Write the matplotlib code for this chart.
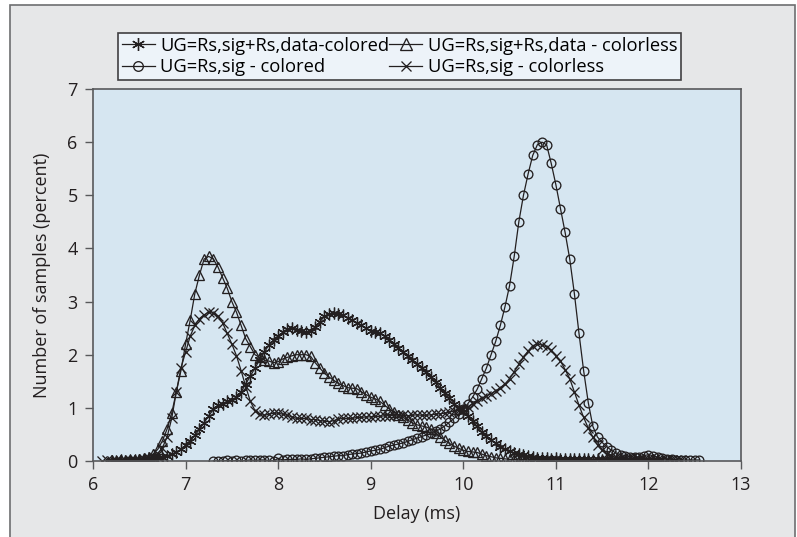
import numpy as np
import matplotlib
matplotlib.use("Agg")
import matplotlib.pyplot as plt
from matplotlib.patches import Rectangle

plt.rcParams['font.family'] = ['Open Sans', 'DejaVu Sans']

# ---------------- data ----------------
step = 0.05

labels = ["UG=Rs,sig+Rs,data-colored", "UG=Rs,sig+Rs,data - colorless",
          "UG=Rs,sig - colored", "UG=Rs,sig - colorless"]

# series 1: asterisk, starts at 6.20
ast_start = 6.20
ast_y = [0.0, 0.0, 0.01, 0.0, 0.01, 0.01, 0.02, 0.02, 0.03,
         0.04, 0.05, 0.07, 0.10, 0.13, 0.17, 0.22, 0.30, 0.38, 0.48, 0.60, 0.72, 0.85, 0.97, 1.05, 1.08,
         1.12, 1.15, 1.20, 1.30, 1.45, 1.60, 1.75, 1.90, 2.05, 2.18, 2.28, 2.35, 2.42, 2.48, 2.50, 2.47,
         2.45, 2.43, 2.45, 2.52, 2.62, 2.72, 2.76, 2.78, 2.77, 2.74, 2.70, 2.65, 2.60, 2.55, 2.50, 2.45,
         2.42, 2.40, 2.35, 2.28, 2.20, 2.12, 2.05, 1.97, 1.90, 1.82, 1.75, 1.68, 1.58, 1.48, 1.38, 1.28,
         1.18, 1.08, 1.00, 0.93, 0.84, 0.75, 0.65, 0.55, 0.47, 0.40, 0.33, 0.27, 0.22, 0.18, 0.15, 0.13,
         0.11, 0.09, 0.07, 0.06, 0.05, 0.05, 0.04, 0.05, 0.04, 0.03, 0.04, 0.03, 0.03, 0.04, 0.03, 0.02,
         0.03, 0.02, 0.03, 0.02, 0.02, 0.03, 0.02, 0.02, 0.01, 0.02, 0.01, 0.01, 0.01, 0.01]

# series 2: triangle, starts at 6.20
tri_start = 6.20
tri_y = [0.0, 0.0, 0.01, 0.0, 0.01, 0.02, 0.03,
         0.05, 0.08, 0.13, 0.22, 0.38, 0.60, 0.90, 1.30, 1.70, 2.20, 2.65, 3.15, 3.50, 3.80, 3.85, 3.80,
         3.65, 3.45, 3.25, 3.00, 2.80, 2.55, 2.30, 2.15, 2.00, 1.95, 1.90, 1.88, 1.85, 1.87, 1.92, 1.95,
         1.98, 2.00, 2.00, 2.00, 1.97, 1.85, 1.75, 1.65, 1.58, 1.52, 1.46, 1.42, 1.38, 1.37, 1.36, 1.30,
         1.25, 1.20, 1.17, 1.12, 1.05, 0.98, 0.92, 0.87, 0.82, 0.77, 0.72, 0.68, 0.66, 0.64, 0.60, 0.53,
         0.46, 0.39, 0.33, 0.28, 0.24, 0.20, 0.18, 0.17, 0.16, 0.13, 0.10, 0.08, 0.06, 0.05, 0.04, 0.03,
         0.03, 0.02, 0.03, 0.02, 0.02, 0.03, 0.02, 0.02, 0.01, 0.02, 0.02, 0.01, 0.02, 0.01, 0.01, 0.02,
         0.01, 0.01, 0.01, 0.01, 0.01, 0.01, 0.0, 0.01, 0.01, 0.0, 0.01, 0.0]

# series 3: circle, starts at 7.30
cir_start = 7.30
cir_y = [0.0, 0.0, 0.0, 0.01, 0.0, 0.01, 0.0, 0.01, 0.02, 0.01, 0.02, 0.02, 0.01, 0.0, 0.05, 0.02,
         0.03, 0.03, 0.03, 0.04, 0.03, 0.04, 0.05, 0.06, 0.07, 0.08, 0.09, 0.10, 0.10, 0.12, 0.13, 0.14,
         0.15, 0.17, 0.19, 0.20, 0.22, 0.25, 0.28, 0.30, 0.32, 0.34, 0.37, 0.40, 0.43, 0.46, 0.49, 0.52,
         0.56, 0.60, 0.66, 0.73, 0.80, 0.88, 0.97, 1.08, 1.20, 1.35, 1.55, 1.75, 2.00, 2.25, 2.55, 2.90,
         3.30, 3.85, 4.50, 5.00, 5.40, 5.75, 5.95, 6.00, 5.95, 5.60, 5.20, 4.75, 4.30, 3.80, 3.15, 2.40,
         1.70, 1.10, 0.65, 0.45, 0.35, 0.27, 0.20, 0.15, 0.12, 0.10, 0.08, 0.07, 0.08, 0.10, 0.12, 0.10,
         0.07, 0.05, 0.04, 0.03, 0.02, 0.02, 0.02, 0.02, 0.02, 0.02]

# series 4: x-cross, starts at 6.10
crs_start = 6.10
crs_y = [0.0, 0.01, 0.0, 0.01, 0.0, 0.01, 0.02, 0.01, 0.02, 0.03,
         0.05, 0.08, 0.14, 0.25, 0.45, 0.80, 1.30, 1.75, 2.05, 2.35, 2.55, 2.68, 2.75, 2.80, 2.78, 2.72,
         2.60, 2.40, 2.20, 1.98, 1.70, 1.40, 1.12, 0.95, 0.88, 0.86, 0.88, 0.90, 0.90, 0.88, 0.86, 0.83,
         0.80, 0.80, 0.80, 0.78, 0.78, 0.76, 0.75, 0.74, 0.76, 0.79, 0.80, 0.80, 0.80, 0.82, 0.82, 0.83,
         0.83, 0.84, 0.84, 0.85, 0.85, 0.86, 0.87, 0.86, 0.85, 0.86, 0.87, 0.86, 0.86, 0.87, 0.88, 0.89,
         0.90, 0.92, 0.94, 0.96, 0.98, 1.02, 1.08, 1.13, 1.18, 1.22, 1.27, 1.32, 1.38, 1.45, 1.55, 1.68,
         1.82, 1.95, 2.07, 2.17, 2.20, 2.18, 2.15, 2.08, 1.98, 1.88, 1.72, 1.55, 1.30, 1.05, 0.82, 0.62,
         0.45, 0.30, 0.20, 0.13, 0.09, 0.07, 0.05, 0.04, 0.05, 0.04, 0.03, 0.04, 0.03, 0.02, 0.03, 0.02,
         0.02, 0.01, 0.02, 0.01]

xticks = [6, 7, 8, 9, 10, 11, 12, 13]
yticks = [0, 1, 2, 3, 4, 5, 6, 7]

# ---------------- figure ----------------
W, H, DPI = 797, 537, 100
fig = plt.figure(figsize=(W / DPI, H / DPI), dpi=DPI)
fig.patch.set_facecolor('white')

frame = Rectangle((10 / W, -0.05), (795 - 10) / W, 1.05 - 5 / H,
                  transform=fig.transFigure, facecolor='#e6e7e8',
                  edgecolor='#6d6e70', linewidth=1.2, zorder=-10)
fig.patches.append(frame)

ax = fig.add_axes([93 / W, 1 - 461 / H, (741 - 93) / W, (461 - 89) / H])
ax.set_facecolor('#d6e6f1')

ink = '#231f20'
common = dict(color=ink, linewidth=0.9, markerfacecolor='none',
              markeredgecolor=ink, markeredgewidth=0.95)

def xs(start, n):
    return start + step * np.arange(n)

ax.plot(xs(ast_start, len(ast_y)), ast_y, marker=(6, 2, 0), markersize=8.5, label=labels[0], **common)
ax.plot(xs(tri_start, len(tri_y)), tri_y, marker='^', markersize=7.5, label=labels[1], **common)
ax.plot(xs(cir_start, len(cir_y)), cir_y, marker='o', markersize=6.3, label=labels[2], **common)
ax.plot(xs(crs_start, len(crs_y)), crs_y, marker='x', markersize=6.8, label=labels[3], **common)

ax.set_xlim(6, 13)
ax.set_ylim(0, 7)
ax.set_xticks(xticks)
ax.set_yticks(yticks)
for s in ax.spines.values():
    s.set_color('#58595b')
    s.set_linewidth(1.2)
ax.tick_params(direction='out', length=6, width=1, color='#58595b',
               labelsize=13, labelcolor=ink, pad=5)

ax.set_xlabel('Delay (ms)', fontsize=13, color=ink, labelpad=8)
ax.set_ylabel('Number of samples (percent)', fontsize=13, color=ink, labelpad=12)

h, l = ax.get_legend_handles_labels()
order = [0, 2, 1, 3]
leg = fig.legend([h[i] for i in order], [l[i] for i in order], ncol=2,
                 loc='upper left', bbox_to_anchor=(118 / W, 1 - 33 / H),
                 fontsize=13.2, frameon=True, fancybox=False, markerscale=1.1,
                 handlelength=1.8, handletextpad=0.3, columnspacing=0.0,
                 labelspacing=0.18, borderpad=0.2, borderaxespad=0)
leg.get_frame().set_facecolor('#edf3f9')
leg.get_frame().set_edgecolor('#414042')
leg.get_frame().set_linewidth(1.2)
leg.get_frame().set_alpha(1)

fig.savefig('out.png', dpi=DPI, facecolor=fig.get_facecolor())
